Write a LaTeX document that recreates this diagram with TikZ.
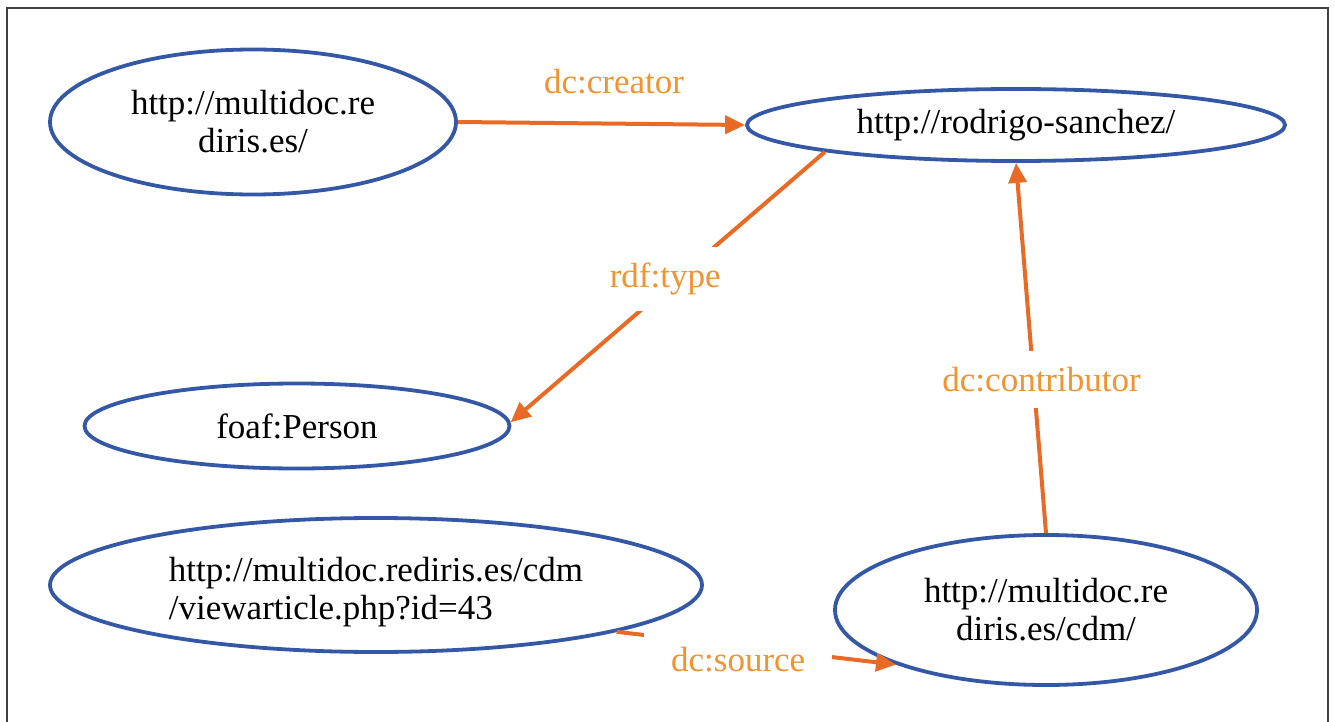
\documentclass[tikz,border=0pt]{standalone}
\usepackage{fontspec}
\setmainfont{Liberation Serif}
\usetikzlibrary{arrows.meta,shapes.geometric}
\definecolor{ellblue}{RGB}{52,88,166}
\definecolor{lineorange}{RGB}{233,106,36}
\definecolor{lblorange}{RGB}{242,147,48}
\definecolor{framegray}{RGB}{64,64,64}
\tikzset{
  res/.style={ellipse, draw=ellblue, line width=3.8pt, inner sep=0pt,
    font=\fontsize{35}{38}\selectfont, text=black},
  restext/.style={inner sep=0pt, font=\fontsize{35}{38}\selectfont, text=black},
  edge/.style={draw=lineorange, line width=4pt,
    -{Triangle[length=20pt,width=18pt]}},
  lbl/.style={text=lblorange, font=\fontsize{35}{37}\selectfont},
  cutlbl/.style={lbl, fill=white, inner xsep=27pt, inner ysep=16pt},
}
\begin{document}
\begin{tikzpicture}[x=1pt,y=-1pt]
\useasboundingbox (0,0) rectangle (1335,722);
\draw[framegray, line width=2pt] (7,722) -- (7,8) -- (1328,8) -- (1328,722);

\node[res, minimum width=406pt, minimum height=145pt, align=center] (home) at (253,122) {http://multidoc.re\\diris.es/};
\node[res, minimum width=538pt, minimum height=72pt] (rod) at (1016,125) {http://rodrigo-sanchez/};
\node[res, minimum width=425pt, minimum height=85pt] (foaf) at (297,426) {foaf:Person};
\node[res, minimum width=652pt, minimum height=134pt] (view) at (376,585) {};
\node[restext, align=left] (viewtxt) at (376,592) {http://multidoc.rediris.es/cdm\\/viewarticle.php?id=43};
\node[res, minimum width=422pt, minimum height=150pt, align=center] (cdm) at (1046,610) {http://multidoc.re\\diris.es/cdm/};

\draw[edge] (home.east) -- (rod.west);
\node[lbl] (lcreator) at (614,82) {dc:creator};

\draw[edge] (rod.188.5) -- node[cutlbl, pos=0.47, xshift=-12pt] (ltype) {rdf:type} (foaf.1);
\draw[edge] (cdm.north) -- node[cutlbl, pos=0.414, xshift=8pt] (lcontrib) {dc:contributor} (rod.south);
\draw[edge] (view.-11.45) -- node[cutlbl, pos=0.435, yshift=-14pt] (lsource) {dc:source} (cdm.200.3);
\end{tikzpicture}
\end{document}
